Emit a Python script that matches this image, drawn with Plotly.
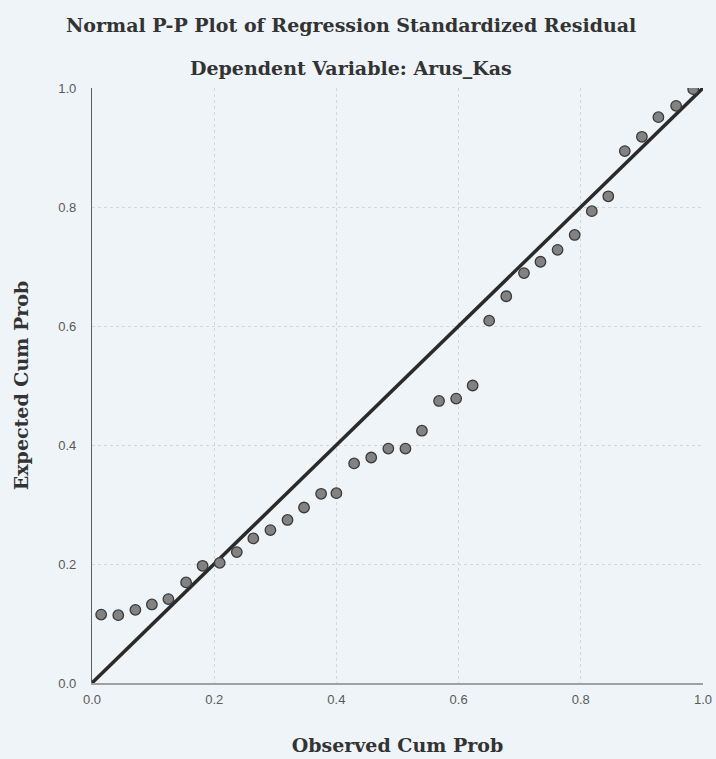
import plotly.graph_objects as go

observed = [0.015, 0.043, 0.071, 0.098, 0.125, 0.154, 0.181, 0.209, 0.237, 0.264,
            0.292, 0.320, 0.347, 0.375, 0.400, 0.429, 0.457, 0.485, 0.513, 0.540,
            0.568, 0.596, 0.623, 0.650, 0.678, 0.707, 0.734, 0.762, 0.790, 0.818,
            0.845, 0.872, 0.900, 0.927, 0.956, 0.984]
expected = [0.115, 0.114, 0.123, 0.132, 0.141, 0.169, 0.197, 0.202, 0.220, 0.243,
            0.257, 0.274, 0.295, 0.318, 0.319, 0.369, 0.379, 0.394, 0.394, 0.424,
            0.474, 0.478, 0.500, 0.609, 0.650, 0.689, 0.708, 0.728, 0.753, 0.793,
            0.818, 0.894, 0.918, 0.951, 0.970, 0.998]
ref_line = [0.0, 1.0]
ticks = [0.0, 0.2, 0.4, 0.6, 0.8, 1.0]
tick_labels = ["0.0", "0.2", "0.4", "0.6", "0.8", "1.0"]

bg = "#eef4f8"
serif = "DejaVu Serif, Liberation Serif, serif"
sans = "Liberation Sans Narrow, Liberation Sans, Arial, sans-serif"

fig = go.Figure()
fig.add_trace(go.Scatter(x=ref_line, y=ref_line, mode="lines",
                         line=dict(color="#2a2a2a", width=3.5),
                         hoverinfo="skip", showlegend=False))
fig.add_trace(go.Scatter(x=observed, y=expected, mode="markers",
                         marker=dict(size=10.5, color="#828282",
                                     line=dict(color="#3a3a3a", width=1.3)),
                         showlegend=False))

axis_common = dict(range=[0, 1], tickvals=ticks, ticktext=tick_labels,
                   showgrid=True, gridcolor="#d3d7da", griddash="dot", gridwidth=1,
                   zeroline=False, ticks="", fixedrange=True, automargin=False,
                   tickfont=dict(family=sans, size=13, color="#5a5a5a"))

fig.update_xaxes(**axis_common, showline=True, linecolor="#a0a0a0", linewidth=2,
                 mirror=False, ticklabelstandoff=3,
                 title=dict(text="<b>Observed Cum Prob</b>",
                            font=dict(family=serif, size=19, color="#333333"),
                            standoff=33))
fig.update_yaxes(**axis_common, showline=True, linecolor="#606060", linewidth=1.2,
                 mirror=False, ticklabelstandoff=12,
                 title=dict(text="<b>Expected Cum Prob</b>",
                            font=dict(family=serif, size=19, color="#333333"),
                            standoff=24))

fig.update_layout(
    width=716, height=759,
    margin=dict(l=92, r=13, t=88, b=76),
    paper_bgcolor=bg, plot_bgcolor=bg,
    annotations=[
        dict(text="<b>Normal P-P Plot of Regression Standardized Residual</b>",
             xref="paper", yref="paper", x=0.424, y=1, yshift=63,
             xanchor="center", yanchor="middle", showarrow=False,
             font=dict(family=serif, size=19, color="#333333")),
        dict(text="<b>Dependent Variable: Arus_Kas</b>",
             xref="paper", yref="paper", x=0.424, y=1, yshift=20,
             xanchor="center", yanchor="middle", showarrow=False,
             font=dict(family=serif, size=19, color="#333333")),
    ],
)

fig.write_html("out.html",
               config={"displayModeBar": False},
               post_script="document.body.style.margin='0';"
                           "document.body.style.background='#eef4f8';"
                           "document.body.style.overflow='hidden';")
